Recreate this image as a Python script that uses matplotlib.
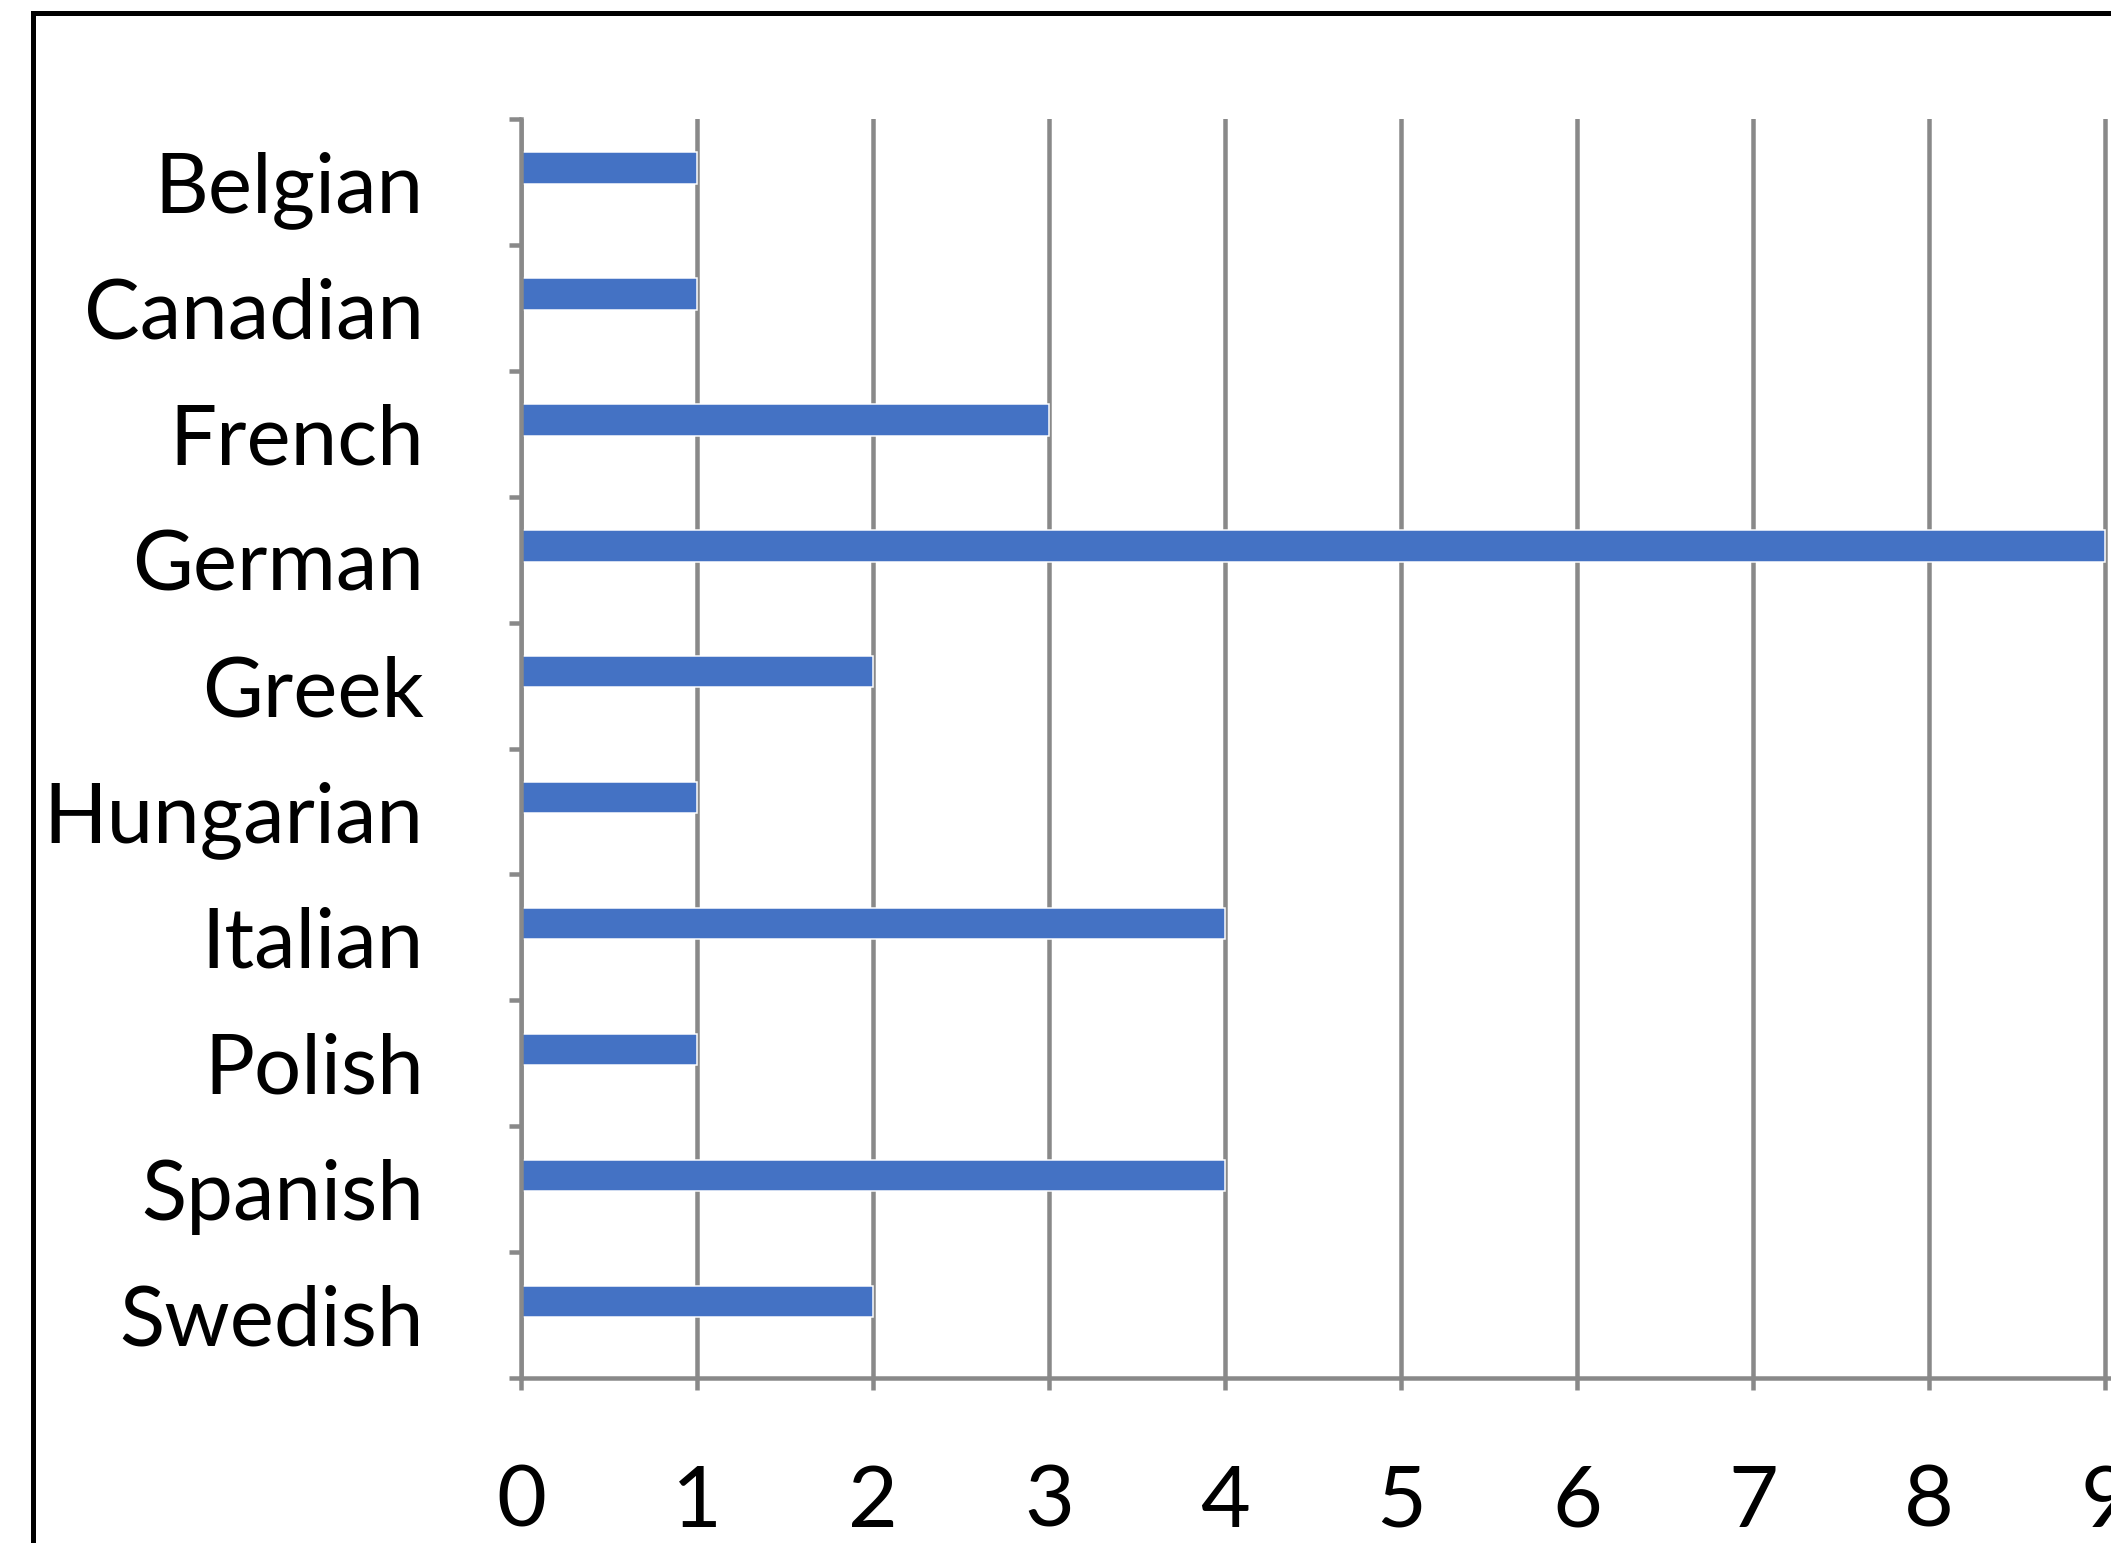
import numpy as np
import matplotlib
matplotlib.use("Agg")
import matplotlib.pyplot as plt
from matplotlib.patches import Rectangle

plt.rcParams['font.family'] = ['Lato', 'DejaVu Sans']

# nationalities and their counts
nationalities = ["Belgian", "Canadian", "French", "German", "Greek",
                 "Hungarian", "Italian", "Polish", "Spanish", "Swedish"]
counts = [1, 1, 3, 9, 2, 1, 4, 1, 4, 2]
x_ticks = list(range(0, 11))

bar_color = "#4472C4"
grid_color = "#898989"
px = 72 / 100  # one pixel in points at dpi 100

fig = plt.figure(figsize=(21.11, 15.43), dpi=100)
fig.patch.set_facecolor("white")

# plot area (runs off the right edge of the canvas)
ax = fig.add_axes([0.2468, 0.1069, 0.8339, 0.8160])

pos = np.arange(len(nationalities))
bar_offset = 0.11
ax.barh(pos - bar_offset, counts, height=0.25, color=bar_color,
        edgecolor="white", linewidth=1.5 * px, zorder=3)

ax.set_xlim(0, 10)
ax.set_ylim(len(nationalities) - 0.5, -0.5)

# x axis
ax.set_xticks(x_ticks)
ax.set_xticklabels([str(t) for t in x_ticks])
ax.xaxis.grid(True, color=grid_color, linewidth=4.5 * px, zorder=0)
ax.tick_params(axis="x", which="major", direction="out", length=12 * px,
               width=4.5 * px, color=grid_color, labelsize=62, pad=53)

# y axis: ticks between categories, labels centred in each slot
ax.set_yticks(np.arange(-0.5, len(nationalities)))
ax.set_yticklabels([])
ax.set_yticks(pos, minor=True)
ax.set_yticklabels(nationalities, minor=True)
ax.tick_params(axis="y", which="major", direction="out", length=12 * px,
               width=4.5 * px, color=grid_color)
ax.tick_params(axis="y", which="minor", length=0, labelsize=60, pad=70)

for side in ["top", "right"]:
    ax.spines[side].set_visible(False)
for side in ["left", "bottom"]:
    ax.spines[side].set_color(grid_color)
    ax.spines[side].set_linewidth(4.5 * px)
    ax.spines[side].set_zorder(4)

# outer chart frame
fig.patches.append(Rectangle((33 / 2111, -0.1), 1.2, 1.1 - 13 / 1543,
                             transform=fig.transFigure, fill=False,
                             edgecolor="black", linewidth=5 * px))

fig.savefig("out.png", dpi=100)
